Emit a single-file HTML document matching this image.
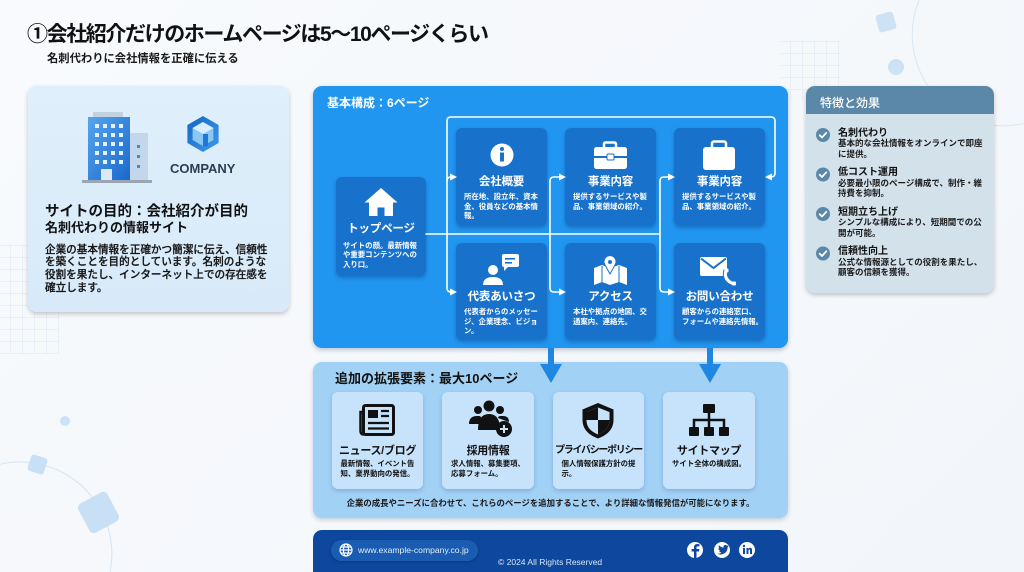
<!DOCTYPE html>
<html><head><meta charset="utf-8">
<style>
*{margin:0;padding:0;box-sizing:border-box}
html,body{width:1024px;height:572px;overflow:hidden}
body{position:relative;background:linear-gradient(135deg,#f8fafd 0%,#f2f6fa 100%);font-family:"Liberation Sans","Noto Sans CJK JP",sans-serif;color:#1b1b1b}
.a{position:absolute}
.p{position:absolute;z-index:1}
.c{position:absolute;z-index:2;border-radius:6px}
.bc{background:#1872cb;box-shadow:0 2px 4px rgba(0,20,70,.28)}
.lc{background:#c6e3fb;box-shadow:0 2px 4px rgba(20,60,110,.22)}
.t{position:absolute;z-index:4;white-space:nowrap}
.ct{font-size:11.5px;line-height:12px;font-weight:700;color:#fff;text-align:center;letter-spacing:-.2px}
.cd{font-size:7.4px;line-height:9.5px;font-weight:700;color:#fff}
.lt{font-size:11px;line-height:12px;font-weight:700;color:#111;text-align:center;letter-spacing:-.3px}
.ld{font-size:7.4px;line-height:10px;font-weight:700;color:#111;text-align:center}
.ld span{display:inline-block;text-align:left}
.rt{font-size:10px;line-height:11px;font-weight:700;color:#111}
.rd{font-size:8.5px;line-height:10.5px;font-weight:700;color:#1a1a1a}
</style></head><body>

<!-- decorations -->
<svg class="a" style="left:0;top:0;z-index:0" width="1024" height="572">
<defs><pattern id="g" x="10" y="5" width="12" height="12" patternUnits="userSpaceOnUse"><path d="M0 0V12M0 0H12" stroke="#dbe6f1" stroke-width="1" fill="none"/></pattern></defs>
<rect x="0" y="245" width="59" height="109" fill="url(#g)"/>
<rect x="780" y="41" width="61" height="60" fill="url(#g)"/>
<path d="M0,464.2 A92,92 0 0 1 110.2,571.5" fill="none" stroke="#d3e5f4" stroke-width="1"/>
<path d="M919,0.5 A91,91 0 0 0 1023.5,123.5" fill="none" stroke="#d9e7f3" stroke-width="1"/>
<circle cx="65" cy="421" r="5" fill="#cce2f6"/>
<rect x="29" y="456" width="17" height="17" rx="3" fill="#c8e0f6" transform="rotate(18 37.5 464.5)"/>
<rect x="82" y="496" width="33" height="33" rx="5" fill="#c8e0f6" transform="rotate(-28 98.5 512.5)"/>
<rect x="877" y="13" width="18" height="18" rx="3" fill="#cde2f5" transform="rotate(-16 886 22)"/>
<circle cx="896" cy="67" r="8" fill="#cde2f5"/>
</svg>

<!-- title -->
<div class="t" style="left:27px;top:24px;font-size:21px;line-height:21px;font-weight:700;letter-spacing:-1.4px;color:#111">①会社紹介だけのホームページは5〜10ページくらい</div>
<div class="t" style="left:47px;top:52px;font-size:11.3px;line-height:14px;font-weight:700;color:#1a1a1a">名刺代わりに会社情報を正確に伝える</div>

<!-- left panel -->
<div class="p" style="left:28px;top:86px;width:261px;height:226px;border-radius:9px;background:linear-gradient(180deg,#dfeffb,#d8eaf9);box-shadow:0 2px 5px rgba(0,0,0,.22)"></div>
<svg class="a" style="left:0;top:0;z-index:3" width="300" height="200">
<defs>
<linearGradient id="bg1" x1="0" y1="0" x2="1" y2="1"><stop offset="0" stop-color="#56a5ec"/><stop offset="1" stop-color="#1b68cc"/></linearGradient>
<linearGradient id="hx" x1="0" y1="0" x2="1" y2="1"><stop offset="0" stop-color="#1565c0"/><stop offset="1" stop-color="#3d9aee"/></linearGradient>
</defs>
<rect x="93" y="112" width="30" height="6" fill="#c3d2e0"/>
<rect x="130" y="133" width="18" height="47" fill="#c4d7ea"/>
<rect x="88" y="117" width="42" height="63" fill="url(#bg1)"/>
<g fill="#e6f0fb">
<rect x="95" y="124" width="4" height="4"/><rect x="103" y="124" width="4" height="4"/><rect x="111" y="124" width="4" height="4"/><rect x="119" y="124" width="4" height="4"/>
<rect x="95" y="133" width="4" height="4"/><rect x="103" y="133" width="4" height="4"/><rect x="111" y="133" width="4" height="4"/><rect x="119" y="133" width="4" height="4"/>
<rect x="95" y="142" width="4" height="4"/><rect x="103" y="142" width="4" height="4"/><rect x="111" y="142" width="4" height="4"/><rect x="119" y="142" width="4" height="4"/>
<rect x="95" y="151" width="4" height="4"/><rect x="103" y="151" width="4" height="4"/><rect x="111" y="151" width="4" height="4"/><rect x="119" y="151" width="4" height="4"/>
<rect x="95" y="160" width="4" height="4"/><rect x="103" y="160" width="4" height="4"/><rect x="111" y="160" width="4" height="4"/><rect x="119" y="160" width="4" height="4"/>
</g>
<rect x="101" y="169" width="11" height="11" fill="#dbe8f6"/>
<g fill="#3f8ad8"><rect x="137" y="145" width="3" height="3"/><rect x="137" y="155" width="3" height="3"/><rect x="137" y="165" width="3" height="3"/></g>
<rect x="82" y="180" width="70" height="3" fill="#9aa6b3"/>
<polygon points="203,116 218.6,125 218.6,143 203,152 187.4,143 187.4,125" fill="url(#hx)"/>
<polygon points="203,122 213.4,128 213.4,140 203,146 192.6,140 192.6,128" fill="#8cc6f3"/>
<polygon points="203,122 213.4,128 203,134 192.6,128" fill="#d9eefc"/>
<rect x="203" y="134" width="5" height="12" fill="#1e78d6"/>
</svg>
<div class="t" style="left:170px;top:162px;font-size:13px;line-height:14px;font-weight:700;color:#2b3d52">COMPANY</div>
<div class="t" style="left:45px;top:204px;font-size:14.5px;line-height:16px;font-weight:700;color:#111">サイトの目的：会社紹介が目的</div>
<div class="t" style="left:45px;top:220px;font-size:13px;line-height:16px;font-weight:700;color:#111">名刺代わりの情報サイト</div>
<div class="t" style="left:45px;top:243.5px;font-size:10.6px;line-height:12.7px;font-weight:500;color:#151515;-webkit-text-stroke:0.25px #151515">企業の基本情報を正確かつ簡潔に伝え、信頼性<br>を築くことを目的としています。名刺のような<br>役割を果たし、インターネット上での存在感を<br>確立します。</div>

<!-- blue panel -->
<div class="p" style="left:313px;top:86px;width:475px;height:262px;border-radius:9px;background:#2196f1;box-shadow:0 2px 5px rgba(0,40,90,.25)"></div>
<div class="t" style="left:327px;top:96px;font-size:12px;line-height:14px;font-weight:700;color:#fff">基本構成：6ページ</div>

<div class="c bc" style="left:336px;top:177px;width:90px;height:99px"></div>
<div class="c bc" style="left:456px;top:128px;width:91px;height:98px"></div>
<div class="c bc" style="left:565px;top:128px;width:91px;height:98px"></div>
<div class="c bc" style="left:674px;top:128px;width:91px;height:98px"></div>
<div class="c bc" style="left:456px;top:243px;width:91px;height:97px"></div>
<div class="c bc" style="left:565px;top:243px;width:91px;height:97px"></div>
<div class="c bc" style="left:674px;top:243px;width:91px;height:97px"></div>

<div class="t ct" style="left:336px;top:223px;width:90px">トップページ</div>
<div class="t cd" style="left:343px;top:240.5px">サイトの顔。最新情報<br>や重要コンテンツへの<br>入り口。</div>
<div class="t ct" style="left:456px;top:176px;width:91px">会社概要</div>
<div class="t cd" style="left:464px;top:192px">所在地、設立年、資本<br>金、役員などの基本情<br>報。</div>
<div class="t ct" style="left:565px;top:176px;width:91px">事業内容</div>
<div class="t cd" style="left:573px;top:192px">提供するサービスや製<br>品、事業領域の紹介。</div>
<div class="t ct" style="left:674px;top:176px;width:91px">事業内容</div>
<div class="t cd" style="left:682px;top:192px">提供するサービスや製<br>品、事業領域の紹介。</div>
<div class="t ct" style="left:456px;top:291px;width:91px">代表あいさつ</div>
<div class="t cd" style="left:464px;top:307px">代表者からのメッセー<br>ジ、企業理念、ビジョ<br>ン。</div>
<div class="t ct" style="left:565px;top:291px;width:91px">アクセス</div>
<div class="t cd" style="left:573px;top:307px">本社や拠点の地図、交<br>通案内、連絡先。</div>
<div class="t ct" style="left:674px;top:291px;width:91px">お問い合わせ</div>
<div class="t cd" style="left:682px;top:307px">顧客からの連絡窓口、<br>フォームや連絡先情報。</div>

<!-- lower panel -->
<div class="p" style="left:313px;top:362px;width:475px;height:156px;border-radius:9px;background:#a2d1f6;box-shadow:0 2px 5px rgba(0,40,90,.2)"></div>
<div class="t" style="left:335px;top:371px;font-size:13px;line-height:15px;font-weight:700;color:#111">追加の拡張要素：最大10ページ</div>
<div class="c lc" style="left:332px;top:392px;width:91px;height:97px"></div>
<div class="c lc" style="left:442px;top:392px;width:92px;height:97px"></div>
<div class="c lc" style="left:553px;top:392px;width:91px;height:97px"></div>
<div class="c lc" style="left:663px;top:392px;width:92px;height:97px"></div>
<div class="t lt" style="left:332px;top:445px;width:91px">ニュース/ブログ</div>
<div class="t ld" style="left:332px;top:459px;width:91px"><span>最新情報、イベント告<br>知、業界動向の発信。</span></div>
<div class="t lt" style="left:442px;top:445px;width:92px">採用情報</div>
<div class="t ld" style="left:442px;top:459px;width:92px"><span>求人情報、募集要項、<br>応募フォーム。</span></div>
<div class="t lt" style="left:553px;top:445px;width:91px;font-size:10px;letter-spacing:-1.3px">プライバシーポリシー</div>
<div class="t ld" style="left:553px;top:459px;width:91px"><span>個人情報保護方針の提<br>示。</span></div>
<div class="t lt" style="left:663px;top:445px;width:92px">サイトマップ</div>
<div class="t ld" style="left:663px;top:459px;width:92px"><span>サイト全体の構成図。</span></div>
<div class="t" style="left:313px;top:497px;width:475px;text-align:center;font-size:8.4px;line-height:12px;font-weight:700;color:#1a1a1a">企業の成長やニーズに合わせて、これらのページを追加することで、より詳細な情報発信が可能になります。</div>

<!-- right panel -->
<div class="p" style="left:806px;top:86px;width:188px;height:207px;border-radius:9px;background:#d3e1eb;box-shadow:0 2px 5px rgba(0,0,0,.22);overflow:hidden"><div style="height:28px;background:#5b88a9"></div></div>
<div class="t" style="left:820px;top:96px;font-size:12px;line-height:14px;font-weight:500;color:#fff">特徴と効果</div>
<div class="t rt" style="left:838px;top:127.5px">名刺代わり</div>
<div class="t rd" style="left:838px;top:138px">基本的な会社情報をオンラインで即座<br>に提供。</div>
<div class="t rt" style="left:838px;top:167px">低コスト運用</div>
<div class="t rd" style="left:838px;top:177.5px">必要最小限のページ構成で、制作・維<br>持費を抑制。</div>
<div class="t rt" style="left:838px;top:206.5px">短期立ち上げ</div>
<div class="t rd" style="left:838px;top:217px">シンプルな構成により、短期間での公<br>開が可能。</div>
<div class="t rt" style="left:838px;top:246px">信頼性向上</div>
<div class="t rd" style="left:838px;top:256.5px">公式な情報源としての役割を果たし、<br>顧客の信頼を獲得。</div>

<!-- footer -->
<div class="p" style="left:313px;top:530px;width:475px;height:42px;border-radius:9px 9px 0 0;background:#0e489e"></div>
<div class="c" style="left:331px;top:540px;width:147px;height:21px;border-radius:11px;background:#1a5cb2;box-shadow:0 1px 3px rgba(0,0,0,.25)"></div>
<div class="t" style="left:358px;top:544px;font-size:8.6px;line-height:12px;color:#e3ecf8">www.example-company.co.jp</div>
<div class="t" style="left:498px;top:556px;font-size:8.5px;line-height:12px;color:#d9e4f3">© 2024 All Rights Reserved</div>

<!-- overlay: connectors, arrows, icons -->
<svg class="a" style="left:0;top:0;z-index:3" width="1024" height="572">
<g fill="none" stroke="#fff" stroke-width="1.6" stroke-linecap="round" stroke-linejoin="round">
<path d="M426,234 H660"/>
<path d="M447,234 V121 Q447,117 451,117 H771 Q775,117 775,121 V173 Q775,177 771,177 H770"/>
<path d="M447,181 Q447,177 451,177 H452"/>
<path d="M447,234 V288 Q447,292 451,292 H452"/>
<path d="M550,181 V288"/>
<path d="M550,181 Q550,177 554,177 H561"/>
<path d="M550,288 Q550,292 554,292 H561"/>
<path d="M660,181 V288"/>
<path d="M660,181 Q660,177 664,177 H670"/>
<path d="M660,288 Q660,292 664,292 H670"/>
</g>
<g fill="#fff">
<polygon points="457,177 450,173.5 450,180.5"/>
<polygon points="457,292 450,288.5 450,295.5"/>
<polygon points="566,177 559,173.5 559,180.5"/>
<polygon points="566,292 559,288.5 559,295.5"/>
<polygon points="675,177 668,173.5 668,180.5"/>
<polygon points="675,292 668,288.5 668,295.5"/>
<polygon points="765,177 772,173.5 772,180.5"/>
</g>
<!-- down arrows -->
<g fill="#1f87e2">
<rect x="548" y="348" width="6" height="18"/>
<polygon points="540,364 562,364 551,383"/>
<rect x="707" y="348" width="6" height="18"/>
<polygon points="699,364 721,364 710,383"/>
</g>

<!-- house -->
<path d="M381,188 L364.5,202.5 H369 V216 H377.5 V207.5 H384.5 V216 H393 V202.5 H397.5 Z" fill="#fff"/>
<!-- info -->
<circle cx="502" cy="155" r="11.5" fill="#fff"/>
<circle cx="502" cy="149" r="2" fill="#1872cb"/>
<rect x="500" y="152.5" width="4" height="9" fill="#1872cb"/>
<!-- briefcase -->
<rect x="604" y="142.5" width="12" height="7" rx="1.5" fill="none" stroke="#fff" stroke-width="2.5"/>
<rect x="594" y="147" width="33" height="22" rx="2.5" fill="#fff"/>
<rect x="594" y="156" width="33" height="2" fill="#1872cb"/>
<rect x="607" y="154" width="7" height="6" rx="1" fill="#fff" stroke="#1872cb" stroke-width="1"/>
<!-- bag -->
<rect x="712" y="141.5" width="14" height="8" rx="2" fill="none" stroke="#fff" stroke-width="2.5"/>
<rect x="703" y="147" width="32" height="23" rx="3" fill="#fff"/>
<!-- person + chat -->
<circle cx="493" cy="270" r="5" fill="#fff"/>
<path d="M483,285 Q483,277 493,277 Q503,277 503,285 Z" fill="#fff"/>
<rect x="502" y="254" width="17" height="13" rx="2" fill="#fff"/>
<polygon points="504,266 504,271 509,266" fill="#fff"/>
<rect x="505" y="258" width="10" height="1.6" fill="#1872cb"/>
<rect x="505" y="262" width="7" height="1.6" fill="#1872cb"/>
<!-- map -->
<path d="M594,268 L602,265 L610,268 L619,265 L627,268 V285 L619,282 L610,285 L602,282 L594,285 Z" fill="#fff"/>
<path d="M602,266 V282 M619,266 V282" stroke="#1872cb" stroke-width="1"/>
<path d="M610,274 L604.5,264 A6,6 0 1 1 615.5,264 Z" fill="#fff" stroke="#1872cb" stroke-width="1"/>
<circle cx="610" cy="262" r="2" fill="#1872cb"/>
<!-- mail + phone -->
<rect x="700" y="257" width="27" height="19" rx="2" fill="#fff"/>
<polyline points="701,258.5 713.5,268 726,258.5" fill="none" stroke="#1872cb" stroke-width="2"/>
<path d="M726,270 Q723,280 734,284" fill="none" stroke="#1872cb" stroke-width="5"/>
<path d="M726,270 Q723,280 734,284" fill="none" stroke="#fff" stroke-width="3"/>
<rect x="724.5" y="268.5" width="4" height="4" rx="1" fill="#fff"/>
<rect x="732" y="281.5" width="4" height="4" rx="1" fill="#fff"/>

<!-- newspaper -->
<rect x="363.5" y="405.5" width="30" height="29" rx="2" fill="none" stroke="#111" stroke-width="3"/>
<path d="M363.5,412 H360.5 V431 Q360.5,434.5 364,434.5" fill="none" stroke="#111" stroke-width="2.5"/>
<rect x="368" y="410" width="10" height="8" fill="#111"/>
<g stroke="#111" stroke-width="2.2"><path d="M381,411 H389 M381,416 H389 M368,423 H389 M368,428.5 H389"/></g>
<!-- people plus -->
<g fill="#111">
<circle cx="478" cy="410" r="4"/><circle cx="500" cy="410" r="4"/><circle cx="489" cy="406" r="5.5"/>
<path d="M469,424 Q469,416 477,416 H479 Q481,416 481,418 V424 Z"/>
<path d="M478,430 Q478,414 489,414 Q500,414 500,430 Z"/>
<path d="M498,418 Q498,416 501,416 H503 Q509,416 509,422 Z"/>
<circle cx="504" cy="429" r="8"/>
</g>
<path d="M504,425 V433 M500,429 H508" stroke="#c6e3fb" stroke-width="2"/>
<!-- shield -->
<defs><clipPath id="sh"><path d="M598,407.5 L609.5,412 V420 C609.5,428 604,432 598,434.5 C592,432 586.5,428 586.5,420 V412 Z"/></clipPath></defs>
<path d="M598,403 L613.5,409.5 V420 C613.5,430 606,435.5 598,438.5 C590,435.5 582.5,430 582.5,420 V409.5 Z" fill="#111"/>
<path d="M598,407.5 L609.5,412 V420 C609.5,428 604,432 598,434.5 C592,432 586.5,428 586.5,420 V412 Z" fill="#c6e3fb"/>
<g clip-path="url(#sh)" fill="#111"><rect x="585" y="405" width="13" height="15"/><rect x="598" y="420" width="13" height="16"/></g>
<!-- sitemap -->
<rect x="703" y="404" width="12" height="9" rx="1" fill="#111"/>
<path d="M709,413 V420 M694,427 V420 H724 V427 M709,420 V427" fill="none" stroke="#111" stroke-width="2.5"/>
<rect x="689" y="427" width="10" height="9" rx="1" fill="#111"/>
<rect x="704" y="427" width="10" height="9" rx="1" fill="#111"/>
<rect x="719" y="427" width="10" height="9" rx="1" fill="#111"/>

<!-- check circles -->
<g>
<circle cx="823" cy="135" r="7" fill="#5b88a9"/>
<circle cx="823" cy="174.5" r="7" fill="#5b88a9"/>
<circle cx="823" cy="214" r="7" fill="#5b88a9"/>
<circle cx="823" cy="253.5" r="7" fill="#5b88a9"/>
</g>
<g fill="none" stroke="#fff" stroke-width="1.8" stroke-linecap="round" stroke-linejoin="round">
<path d="M819.7,135.2 L822,137.5 L826.3,132.8"/>
<path d="M819.7,174.7 L822,177 L826.3,172.3"/>
<path d="M819.7,214.2 L822,216.5 L826.3,211.8"/>
<path d="M819.7,253.7 L822,256 L826.3,251.3"/>
</g>

<!-- globe -->
<g fill="none" stroke="#fff" stroke-width="1.2">
<circle cx="346" cy="550" r="6"/>
<ellipse cx="346" cy="550" rx="2.6" ry="6"/>
<path d="M340,550 H352 M341,547 H351 M341,553 H351"/>
</g>
<!-- social -->
<circle cx="695" cy="550" r="8" fill="#fff"/>
<path d="M696.5,558 V551.5 H699 L699.4,549 H696.5 V547.6 Q696.5,546.4 697.8,546.4 H699.5 V544.2 Q698.5,544 697.3,544 Q694,544 694,547.3 V549 H691.6 V551.5 H694 V558 Z" fill="#0e489e"/>
<circle cx="722" cy="550" r="8" fill="#fff"/>
<path d="M717,553.5 Q720,554 721.5,552.5 Q719.5,552.3 719,550.8 Q719.8,550.9 720.3,550.6 Q718.3,550 718.3,548.1 Q718.9,548.4 719.5,548.4 Q718,547 719,545.3 Q720.8,547.4 723.4,547.6 Q723.2,545.2 725.4,545 Q726.4,545 727,545.7 Q727.8,545.5 728.4,545.2 Q728.1,546 727.5,546.4 Q728.1,546.3 728.7,546.1 Q728.2,546.8 727.6,547.2 Q727.7,551 724.6,553.3 Q721,555.6 717,553.5 Z" fill="#0e489e"/>
<circle cx="747" cy="550" r="8" fill="#fff"/>
<g fill="#0e489e"><rect x="743" y="548" width="2" height="6"/><circle cx="744" cy="546" r="1.2"/><path d="M746.5,548 H748.4 V549 Q749,547.8 750.5,547.8 Q752,547.8 752,550 V554 H750 V550.6 Q750,549.5 749.2,549.5 Q748.4,549.5 748.4,550.6 V554 H746.5 Z"/></g>
</svg>

</body></html>
